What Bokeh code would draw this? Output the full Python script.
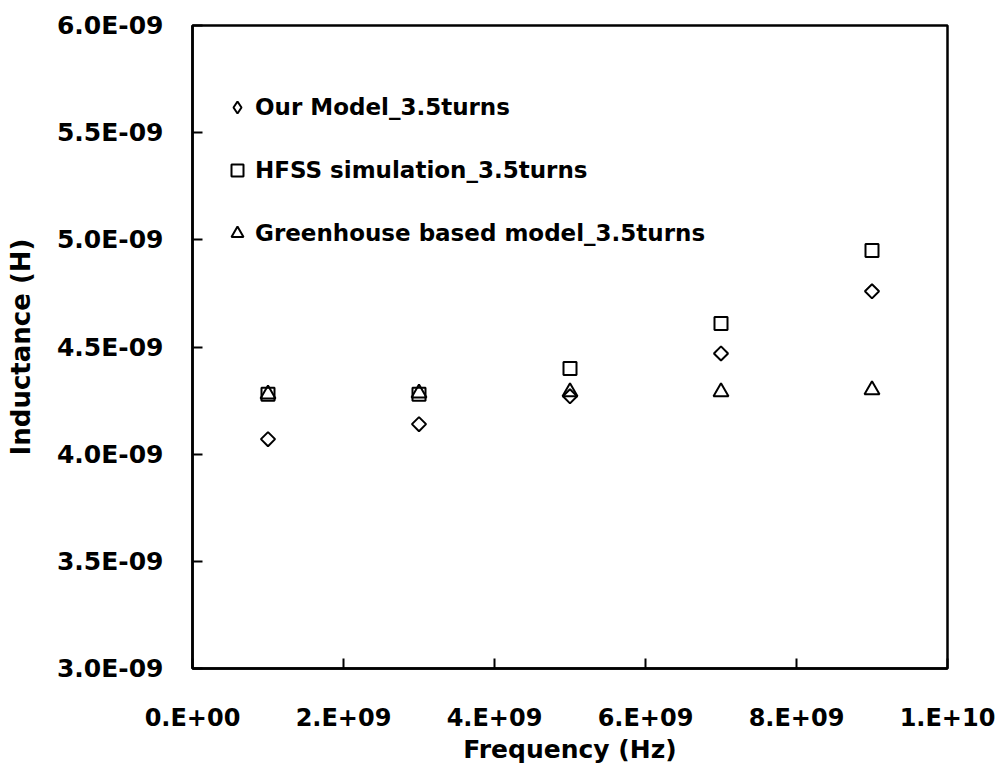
import numpy as np
from bokeh.plotting import figure
from bokeh.models import FixedTicker, Legend, LegendItem, Range1d
from bokeh.embed import file_html
from bokeh.resources import INLINE

# ---- data ----
freq = [1e9, 3e9, 5e9, 7e9, 9e9]
our_model = [4.07e-9, 4.14e-9, 4.27e-9, 4.47e-9, 4.76e-9]
hfss = [4.28e-9, 4.28e-9, 4.40e-9, 4.61e-9, 4.95e-9]
greenhouse = [4.28e-9, 4.285e-9, 4.29e-9, 4.29e-9, 4.30e-9]

series_names = ["Our Model_3.5turns", "HFSS simulation_3.5turns",
                "Greenhouse based model_3.5turns"]

x_ticks = [0.0, 2e9, 4e9, 6e9, 8e9, 1e10]
x_tick_labels = ["0.E+00", "2.E+09", "4.E+09", "6.E+09", "8.E+09", "1.E+10"]
y_ticks = [3.0e-9, 3.5e-9, 4.0e-9, 4.5e-9, 5.0e-9, 5.5e-9, 6.0e-9]
y_tick_labels = ["3.0E-09", "3.5E-09", "4.0E-09", "4.5E-09", "5.0E-09",
                 "5.5E-09", "6.0E-09"]

FONT = "DejaVu Sans"

p = figure(width=997, height=769, output_backend="svg", toolbar_location=None,
           x_range=Range1d(0, 1e10), y_range=Range1d(3e-9, 6e-9),
           min_border_left=192, min_border_top=25, min_border_right=50,
           min_border_bottom=101)

p.grid.visible = False
p.background_fill_color = "white"
p.border_fill_color = "white"
p.outline_line_color = "black"
p.outline_line_width = 2.5

for ax in (p.xaxis[0], p.yaxis[0]):
    ax.axis_line_color = "black"
    ax.axis_line_width = 2.5
    ax.major_tick_in = 10
    ax.major_tick_out = 0
    ax.major_tick_line_width = 2
    ax.minor_tick_line_color = None
    ax.major_label_text_font = FONT
    ax.major_label_text_font_style = "bold"
    ax.major_label_text_color = "black"
    ax.axis_label_text_font = FONT
    ax.axis_label_text_font_style = "bold"
    ax.axis_label_text_color = "black"

p.xaxis.major_label_text_font_size = "24px"
p.yaxis.major_label_text_font_size = "25px"
p.xaxis.axis_label_text_font_size = "25px"
p.yaxis.axis_label_text_font_size = "26px"

p.xaxis.ticker = FixedTicker(ticks=x_ticks)
p.xaxis.major_label_overrides = {t: l for t, l in zip(x_ticks, x_tick_labels)}
p.yaxis.ticker = FixedTicker(ticks=y_ticks)
p.yaxis.major_label_overrides = {t: l for t, l in zip(y_ticks, y_tick_labels)}

p.xaxis.axis_label = "Frequency (Hz)"
p.yaxis.axis_label = "Inductance (H)"
p.xaxis.major_label_standoff = 35
p.xaxis.axis_label_standoff = 0
p.yaxis.major_label_standoff = 29
p.yaxis.axis_label_standoff = 18

r1 = p.scatter(freq, our_model, marker="square", angle=np.pi / 4, size=10,
               fill_color=None, line_color="black", line_width=2)
r2 = p.scatter(freq, hfss, marker="square", size=13,
               fill_color=None, line_color="black", line_width=2)
r3 = p.scatter(freq, greenhouse, marker="triangle", size=15,
               fill_color=None, line_color="black", line_width=2)

# legend-only glyph for the diamond (legend markers are drawn unrotated);
# size 0 keeps it invisible in the plot area
r1_leg = p.scatter(freq, our_model, marker="diamond", size=0,
                   fill_color=None, line_color="black", line_width=2,
                   line_cap="butt")

legend = Legend(items=[LegendItem(label=series_names[0], renderers=[r1_leg]),
                       LegendItem(label=series_names[1], renderers=[r2]),
                       LegendItem(label=series_names[2], renderers=[r3])],
                location=(30, 420), orientation="vertical",
                border_line_color=None, background_fill_alpha=0,
                padding=0, margin=0, spacing=33,
                glyph_width=30, glyph_height=30, label_height=30,
                label_standoff=3,
                label_text_font=FONT, label_text_font_style="bold",
                label_text_font_size="23px", label_text_color="black")
p.add_layout(legend)

open("out.html", "w").write(file_html(p, INLINE))
